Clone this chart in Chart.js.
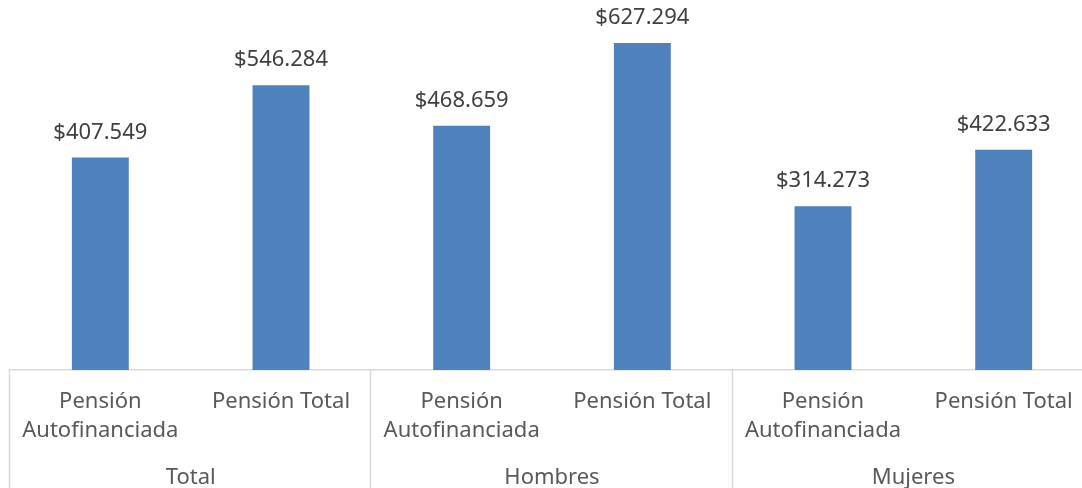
<!DOCTYPE html>
<html>
<head>
<meta charset="utf-8">
<script src="https://cdn.jsdelivr.net/npm/chart.js@4"></script>
<style>
  html, body { margin: 0; padding: 0; background: #fff; overflow: hidden; }
  #wrap { width: 1082px; height: 488px; overflow: hidden; }
</style>
</head>
<body>
<div id="wrap"><canvas id="chart" width="1095" height="488"></canvas></div>
<script>
const categories = [
  ['Pensión', 'Autofinanciada'], 'Pensión Total',
  ['Pensión', 'Autofinanciada'], 'Pensión Total',
  ['Pensión', 'Autofinanciada'], 'Pensión Total'
];
const groups = ['Total', 'Hombres', 'Mujeres'];
const values = [407549, 546284, 468659, 627294, 314273, 422633];

const FONT = '"Noto Sans", sans-serif';
const fmtPeso = v => '$' + String(v).replace(/\B(?=(\d{3})+(?!\d))/g, '.');

// value labels above bars + two-level axis frame
const decorations = {
  id: 'decorations',
  afterDatasetsDraw(chart) {
    const { ctx } = chart;
    const meta = chart.getDatasetMeta(0);
    ctx.save();
    ctx.font = '22px ' + FONT;
    ctx.fillStyle = '#404040';
    ctx.textAlign = 'center';
    ctx.textBaseline = 'middle';
    meta.data.forEach((bar, i) => {
      ctx.fillText(fmtPeso(values[i]), bar.x, bar.y - 25);
    });
    ctx.restore();
  },
  afterDraw(chart) {
    const { ctx, chartArea } = chart;
    const x = chart.scales.x;
    const bottom = chartArea.bottom;
    const edges = [x.left];
    for (let g = 1; g < groups.length; g++) {
      edges.push((x.getPixelForValue(g * 2 - 1) + x.getPixelForValue(g * 2)) / 2);
    }
    edges.push(x.right);
    ctx.save();
    ctx.strokeStyle = '#d9d9d9';
    ctx.lineWidth = 1.5;
    edges.forEach(px => {
      ctx.beginPath();
      ctx.moveTo(Math.round(px) - 0.5, bottom);
      ctx.lineTo(Math.round(px) - 0.5, chart.height);
      ctx.stroke();
    });
    ctx.font = '22px ' + FONT;
    ctx.fillStyle = '#595959';
    ctx.textAlign = 'center';
    ctx.textBaseline = 'middle';
    groups.forEach((g, i) => {
      ctx.fillText(g, (edges[i] + edges[i + 1]) / 2, bottom + 108);
    });
    ctx.restore();
  }
};

new Chart(document.getElementById('chart'), {
  type: 'bar',
  data: {
    labels: categories,
    datasets: [{
      data: values,
      backgroundColor: '#4f81bd',
      borderWidth: 0,
      barPercentage: 0.315,
      categoryPercentage: 1
    }]
  },
  options: {
    responsive: false,
    animation: false,
    events: [],
    layout: { padding: { left: 10, right: 1, top: 5, bottom: 0 } },
    plugins: { legend: { display: false }, tooltip: { enabled: false } },
    scales: {
      x: {
        grid: { display: false, drawTicks: false },
        border: { display: true, color: '#d9d9d9', width: 1.5 },
        ticks: {
          color: '#595959',
          font: { family: FONT, size: 22, lineHeight: 1.32 },
          padding: 17,
          maxRotation: 0,
          autoSkip: false
        },
        afterFit(scale) { scale.height = 118; }
      },
      y: {
        display: false,
        min: 0,
        max: 700000
      }
    }
  },
  plugins: [decorations]
});
</script>
</body>
</html>
